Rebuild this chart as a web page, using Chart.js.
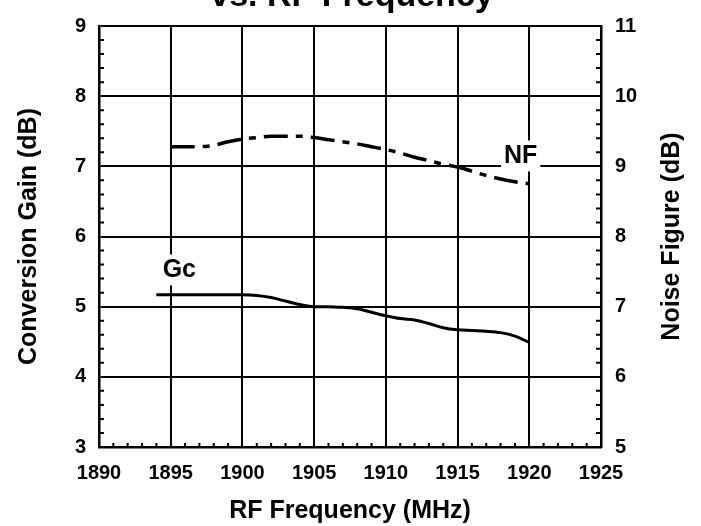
<!DOCTYPE html>
<html>
<head>
<meta charset="utf-8">
<script src="https://cdn.jsdelivr.net/npm/chart.js@4.4.0/dist/chart.umd.min.js"></script>
<style>
  body { margin: 0; background: #fff; }
  #wrap { width: 701px; height: 526px; }
</style>
</head>
<body>
<div id="wrap"><canvas id="gainChart" width="701" height="526"></canvas></div>
<script>
// data
var freqGc = [1894, 1895, 1896, 1897, 1898, 1899, 1900, 1901, 1902, 1903, 1904, 1905, 1906, 1907,
              1908, 1909, 1910, 1911, 1912, 1913, 1914, 1915, 1916, 1917, 1918, 1919, 1920];
var gainGc = [5.17, 5.17, 5.17, 5.17, 5.17, 5.17, 5.17, 5.16, 5.13, 5.08, 5.03, 5.00, 5.00, 4.99,
              4.97, 4.92, 4.87, 4.83, 4.81, 4.76, 4.70, 4.67, 4.66, 4.65, 4.63, 4.58, 4.49];
var freqNf = [1895, 1896, 1897, 1898, 1899, 1900, 1901, 1902, 1903, 1904, 1905, 1906, 1907,
              1908, 1909, 1910, 1911, 1912, 1913, 1914, 1915, 1916, 1917, 1918, 1919, 1920];
var noiseNf = [9.28, 9.28, 9.28, 9.30, 9.35, 9.39, 9.41, 9.43, 9.43, 9.43, 9.41, 9.38, 9.35,
               9.32, 9.28, 9.24, 9.19, 9.13, 9.08, 9.03, 8.99, 8.93, 8.87, 8.82, 8.78, 8.75];
var xRange = [1890, 1925];
var gainRange = [3, 9];
var nfRange = [5, 11];

var FONT = '"Liberation Sans", Arial, Helvetica, sans-serif';

function toPoints(xs, ys) {
    return xs.map(function(x, i) { return { x: x, y: ys[i] }; });
}

// curve labels (Gc / NF) with white box behind them
var curveLabels = [
    { text: 'Gc', x: 1895.6, y: 5.53, axis: 'y' },
    { text: 'NF', x: 1919.4, y: 9.155, axis: 'y2' }
];

var extras = {
    id: 'extras',
    afterDraw: function(chart) {
        var ctx = chart.ctx;
        var xs = chart.scales.x, ys = chart.scales.y, ys2 = chart.scales.y2;
        var area = chart.chartArea;
        ctx.save();
        ctx.strokeStyle = '#000';
        ctx.lineWidth = 2;
        ctx.beginPath();
        // minor ticks on the bottom axis, every 1 MHz
        for (var f = xRange[0] + 1; f < xRange[1]; f++) {
            if (f % 5 === 0) continue;
            var px = xs.getPixelForValue(f);
            ctx.moveTo(px, area.bottom);
            ctx.lineTo(px, area.bottom - 4);
        }
        // minor ticks on left/right axes, every 0.2 dB
        for (var i = 1; i < 30; i++) {
            if (i % 5 === 0) continue;
            var py = ys.getPixelForValue(gainRange[0] + i * 0.2);
            ctx.moveTo(area.left, py);
            ctx.lineTo(area.left + 5, py);
            var py2 = ys2.getPixelForValue(nfRange[0] + i * 0.2);
            ctx.moveTo(area.right, py2);
            ctx.lineTo(area.right - 5, py2);
        }
        ctx.stroke();

        ctx.font = 'bold 25px ' + FONT;
        ctx.textAlign = 'center';
        ctx.textBaseline = 'middle';
        curveLabels.forEach(function(l) {
            var cx = xs.getPixelForValue(l.x);
            var cy = chart.scales[l.axis].getPixelForValue(l.y);
            var w = ctx.measureText(l.text).width + 6;
            ctx.fillStyle = '#fff';
            ctx.fillRect(cx - w / 2, cy - 15, w, 31);
            ctx.fillStyle = '#000';
            ctx.fillText(l.text, cx, cy + 1);
        });

        // right axis title reads bottom-to-top like the left one
        ctx.save();
        ctx.translate(ys2.right - 29, (area.top + area.bottom) / 2);
        ctx.rotate(-Math.PI / 2);
        ctx.fillText('Noise Figure (dB)', 0, 0);
        ctx.restore();

        // title, cut off at the top edge like the original
        ctx.font = 'bold 34px ' + FONT;
        ctx.textBaseline = 'alphabetic';
        ctx.fillText('vs. RF Frequency', (area.left + area.right) / 2 + 2, 6);
        ctx.restore();
    }
};

var ctx = document.getElementById('gainChart').getContext('2d');

var gainChart = new Chart(ctx, {
    type: 'line',
    data: {
        datasets: [{
            label: 'Gc',
            data: toPoints(freqGc, gainGc),
            yAxisID: 'y',
            borderColor: '#000',
            borderWidth: 3,
            pointRadius: 0,
            cubicInterpolationMode: 'monotone'
        }, {
            label: 'NF',
            data: toPoints(freqNf, noiseNf),
            yAxisID: 'y2',
            borderColor: '#000',
            borderWidth: 3.5,
            borderDash: [24, 8, 7, 8],
            pointRadius: 0,
            cubicInterpolationMode: 'monotone'
        }]
    },
    options: {
        responsive: false,
        animation: false,
        layout: { padding: { top: 19, left: 0, right: 0, bottom: 0 } },
        plugins: {
            legend: { display: false },
            tooltip: { enabled: false }
        },
        scales: {
            x: {
                type: 'linear',
                min: xRange[0],
                max: xRange[1],
                afterFit: function(s) { s.height = 79; },
                grid: { color: '#000', lineWidth: 2, drawTicks: false },
                border: { color: '#000', width: 2.5 },
                ticks: {
                    stepSize: 5,
                    autoSkip: false,
                    maxRotation: 0,
                    padding: 14,
                    color: '#000',
                    font: { family: FONT, size: 20, weight: 'bold' },
                    callback: function(v) { return String(v); }
                },
                title: {
                    display: true,
                    text: 'RF Frequency (MHz)',
                    color: '#000',
                    padding: { top: 0, bottom: 0 },
                    font: { family: FONT, size: 25, weight: 'bold' }
                }
            },
            y: {
                position: 'left',
                min: gainRange[0],
                max: gainRange[1],
                afterFit: function(s) { s.width = 99; },
                grid: { color: '#000', lineWidth: 2, drawTicks: false },
                border: { color: '#000', width: 2.5 },
                ticks: {
                    stepSize: 1,
                    padding: 13,
                    color: '#000',
                    font: { family: FONT, size: 20, weight: 'bold' }
                },
                title: {
                    display: true,
                    text: 'Conversion Gain (dB)',
                    color: '#000',
                    padding: { top: 14, bottom: 0 },
                    font: { family: FONT, size: 25, weight: 'bold' }
                }
            },
            y2: {
                position: 'right',
                min: nfRange[0],
                max: nfRange[1],
                afterFit: function(s) { s.width = 100; },
                grid: { drawOnChartArea: false, drawTicks: false },
                border: { color: '#000', width: 2.5 },
                ticks: {
                    stepSize: 1,
                    padding: 14,
                    color: '#000',
                    font: { family: FONT, size: 20, weight: 'bold' }
                },
                title: { display: false }
            }
        }
    },
    plugins: [extras]
});
</script>
</body>
</html>
